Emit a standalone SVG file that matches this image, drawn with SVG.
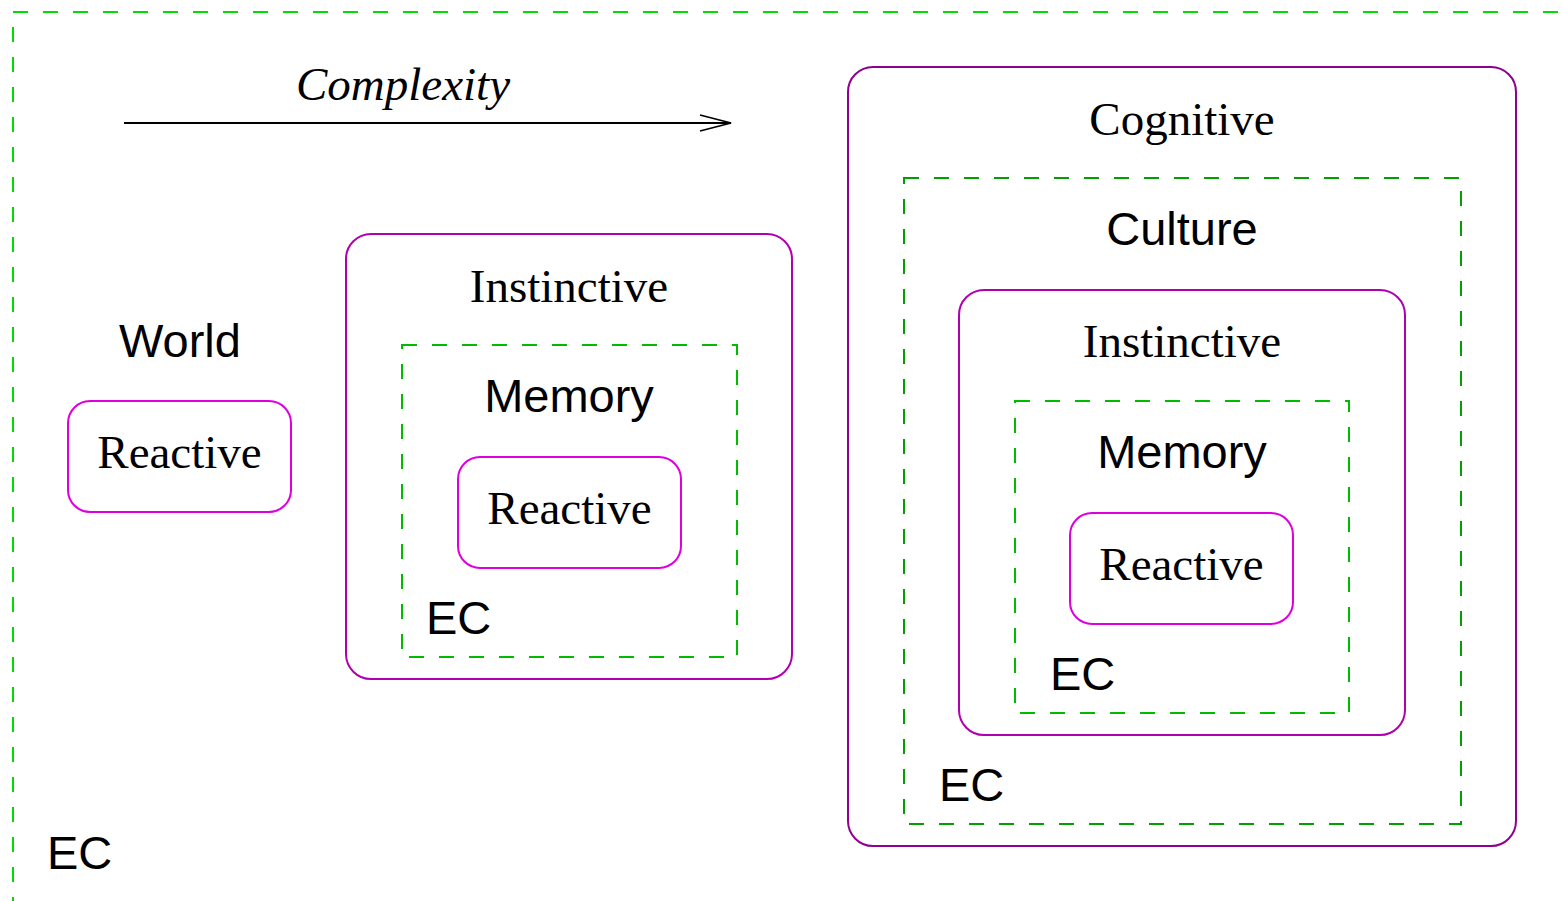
<svg xmlns="http://www.w3.org/2000/svg" width="1563" height="901" viewBox="0 0 1563 901">
<style>
.bg{fill:#fff}
.sans{font-family:"Liberation Sans",Arial,sans-serif;font-size:47px;fill:#000}
.serif{font-family:"Liberation Serif","Times New Roman",serif;font-size:47px;fill:#000}
.mid{text-anchor:middle}
.dash{fill:none;stroke-width:2;stroke-dasharray:15 15}
.box{fill:none;stroke-width:2}
.r{stroke:#dd00dd}
.i{stroke:#b000b0}
.c{stroke:#900090}
.g1{stroke:#00dd00}
.g2{stroke:#00bb00}
.g3{stroke:#00a000}
</style>
<defs>
<marker id="open" markerWidth="34" markerHeight="20" refX="32" refY="10" orient="auto" markerUnits="userSpaceOnUse">
<path d="M1,2 L32,10 L1,18" fill="none" stroke="#000" stroke-width="1.8"/>
</marker>
</defs>
<rect class="bg" x="0" y="0" width="1563" height="901"/>
<g id="outer-ec">
<rect class="dash g1" x="13" y="12" width="1600" height="950"/>
<text class="sans" x="47" y="869">EC</text>
</g>
<g id="connectors">
<line x1="124" y1="123" x2="731" y2="123" stroke="#000" stroke-width="1.8" marker-end="url(#open)"/>
<text class="serif mid" x="403" y="100" font-style="italic">Complexity</text>
</g>
<g id="world">
<text class="sans mid" x="180" y="357">World</text>
</g>
<g id="reactive-left">
<rect class="box r" x="68" y="401" width="223" height="111" rx="22"/>
<text class="serif mid" x="179.5" y="468">Reactive</text>
</g>
<g id="instinctive-mid">
<rect class="box i" x="346" y="234" width="446" height="445" rx="25"/>
<text class="serif mid" x="569" y="302">Instinctive</text>
</g>
<g id="memory-mid">
<rect class="dash g2" x="402" y="345" width="335" height="312"/>
<text class="sans mid" x="569" y="412">Memory</text>
<text class="sans" x="426" y="634">EC</text>
</g>
<g id="reactive-mid">
<rect class="box r" x="458" y="457" width="223" height="111" rx="22"/>
<text class="serif mid" x="569.5" y="524">Reactive</text>
</g>
<g id="cognitive">
<rect class="box c" x="848" y="67" width="668" height="779" rx="25"/>
<text class="serif mid" x="1182" y="135">Cognitive</text>
</g>
<g id="culture">
<rect class="dash g3" x="904" y="178" width="557" height="646"/>
<text class="sans mid" x="1182" y="245">Culture</text>
<text class="sans" x="939" y="801">EC</text>
</g>
<g id="instinctive-right">
<rect class="box i" x="959" y="290" width="446" height="445" rx="25"/>
<text class="serif mid" x="1182" y="357">Instinctive</text>
</g>
<g id="memory-right">
<rect class="dash g2" x="1015" y="401" width="334" height="312"/>
<text class="sans mid" x="1182" y="468">Memory</text>
<text class="sans" x="1050" y="690">EC</text>
</g>
<g id="reactive-right">
<rect class="box r" x="1070" y="513" width="223" height="111" rx="22"/>
<text class="serif mid" x="1181.5" y="580">Reactive</text>
</g>
</svg>
